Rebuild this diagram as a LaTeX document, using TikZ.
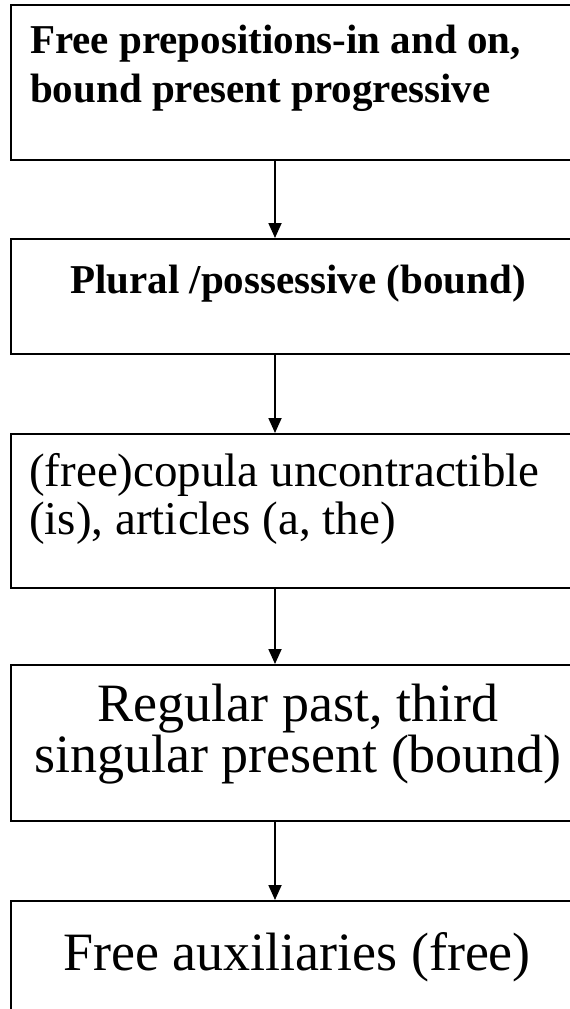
\documentclass[tikz,border=0pt]{standalone}
\usepackage{fontspec}
\setmainfont{Liberation Serif}
\usetikzlibrary{arrows.meta}
\newcommand\tightls{\lineskiplimit=-100pt\relax}
\begin{document}
\begin{tikzpicture}[x=1pt,y=-1pt,
  box/.style={draw, line width=1.6pt, rectangle, anchor=north west, minimum width=580pt, inner sep=0pt},
  arr/.style={line width=1.8pt, -{Triangle[width=13pt,length=15pt]}},
  bt/.style={font=\fontsize{41}{49}\selectfont\bfseries\tightls, inner sep=0pt},
  rtm/.style={font=\fontsize{47}{48}\selectfont\tightls, inner sep=0pt},
  rtl/.style={font=\fontsize{54}{51}\selectfont\tightls, inner sep=0pt}]
\useasboundingbox (0,0) rectangle (570,1009);
\clip (0,0) rectangle (570,1009);
\fill[white] (0,0) rectangle (570,1009);
% boxes
\node[box, minimum height=155pt] (b1) at (10,4) {};
\node[box, minimum height=115pt] (b2) at (10,238) {};
\node[box, minimum height=154pt] (b3) at (10,433) {};
\node[box, minimum height=156pt] (b4) at (10,664) {};
\node[box, minimum height=140pt] (b5) at (10,900) {};
% texts (base anchor = baseline of last line)
\node[bt, align=left, anchor=base west] (t1) at (30,102) {Free prepositions-in and on,\\bound present progressive};
\node[bt, anchor=base] (t2) at (298,293) {Plural /possessive (bound)};
\node[rtm, align=left, anchor=base west] (t3) at (29,534) {(free)copula uncontractible\\(is), articles (a, the)};
\node[rtl, align=center, anchor=base] (t4) at (298,772) {Regular past, third\\singular present (bound)};
\node[rtl, anchor=base] (t5) at (297,970) {Free auxiliaries (free)};
% connectors
\coordinate (ax) at (275,0);
\draw[arr] (b1.south -| ax) -- (b2.north -| ax);
\draw[arr] (b2.south -| ax) -- (b3.north -| ax);
\draw[arr] (b3.south -| ax) -- (b4.north -| ax);
\draw[arr] (b4.south -| ax) -- (b5.north -| ax);
\end{tikzpicture}
\end{document}
